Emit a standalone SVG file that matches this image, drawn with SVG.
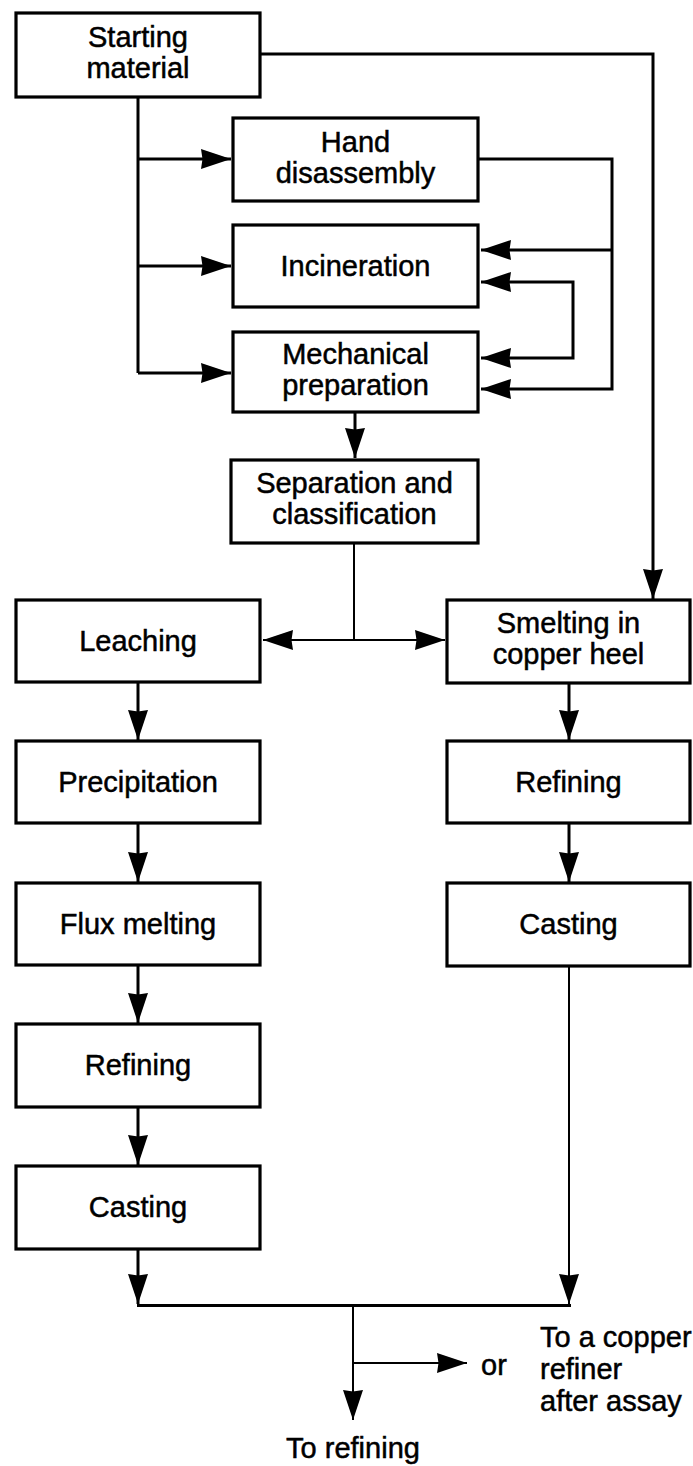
<svg xmlns="http://www.w3.org/2000/svg" width="693" height="1466" viewBox="0 0 693 1466">
  <style>
    .box { fill: #fff; stroke: #000; stroke-width: 3.2; }
    .lbl { font-family: "Liberation Sans", Arial, sans-serif; font-size: 29px; fill: #000; stroke: #000; stroke-width: 0.5; text-anchor: middle; }
    .note { font-family: "Liberation Sans", Arial, sans-serif; font-size: 29px; fill: #000; stroke: #000; stroke-width: 0.5; }
    .wire { fill: none; stroke: #000; stroke-width: 3; stroke-linecap: butt; stroke-linejoin: miter; }
    .thin { fill: none; stroke: #000; stroke-width: 2; }
    .arr { marker-end: url(#head); }
  </style>
  <defs>
    <marker id="head" markerUnits="userSpaceOnUse" markerWidth="30" markerHeight="20" refX="30" refY="10" orient="auto">
      <path d="M0,0 L30,10 L0,20 L1.5,10 Z" fill="#000"/>
    </marker>
  </defs>

  <rect width="693" height="1466" fill="#fff"/>

  <!-- connectors -->
  <g id="connectors">
    <!-- starting material straight to smelting -->
    <polyline class="wire arr" points="260,54 653,54 653,599"/>
    <!-- starting material down the left side -->
    <polyline class="wire" points="138,97 138,373"/>
    <line class="wire arr" x1="138" y1="159" x2="231" y2="159"/>
    <line class="wire arr" x1="138" y1="266" x2="231" y2="266"/>
    <line class="wire arr" x1="138" y1="373" x2="231" y2="373"/>
    <!-- hand disassembly return loop -->
    <polyline class="wire arr" points="478,159 612,159 612,389 481,389"/>
    <line class="wire arr" x1="612" y1="250" x2="481" y2="250"/>
    <!-- incineration / mechanical preparation exchange -->
    <polyline class="wire arr" points="573,320 573,282 481,282"/>
    <polyline class="wire arr" points="573,320 573,358 481,358"/>
    <!-- mechanical preparation to separation -->
    <line class="wire arr" x1="355" y1="412" x2="355" y2="458"/>
    <!-- separation split -->
    <line class="thin" x1="354" y1="543" x2="354" y2="640"/>
    <line class="thin arr" x1="354" y1="640" x2="263" y2="640"/>
    <line class="thin arr" x1="354" y1="640" x2="445" y2="640"/>
    <!-- left chain -->
    <line class="wire arr" x1="138" y1="682" x2="138" y2="740"/>
    <line class="wire arr" x1="138" y1="823" x2="138" y2="882"/>
    <line class="wire arr" x1="138" y1="965" x2="138" y2="1023"/>
    <line class="wire arr" x1="138" y1="1107" x2="138" y2="1165"/>
    <line class="wire arr" x1="138" y1="1249" x2="138" y2="1304"/>
    <!-- right chain -->
    <line class="wire arr" x1="569" y1="683" x2="569" y2="740"/>
    <line class="wire arr" x1="569" y1="823" x2="569" y2="882"/>
    <line class="thin arr" x1="569" y1="966" x2="569" y2="1304"/>
    <!-- collector and outlets -->
    <line class="wire" x1="137" y1="1305.5" x2="571" y2="1305.5"/>
    <line class="thin arr" x1="353" y1="1305" x2="353" y2="1420"/>
    <line class="thin arr" x1="353" y1="1363" x2="467" y2="1363"/>
  </g>

  <!-- process boxes -->
  <g id="starting-material">
    <rect class="box" x="16" y="13" width="244" height="84"/>
    <text class="lbl" x="138" y="47">Starting</text>
    <text class="lbl" x="138" y="78">material</text>
  </g>
  <g id="hand-disassembly">
    <rect class="box" x="233" y="118" width="245" height="83"/>
    <text class="lbl" x="355.5" y="152">Hand</text>
    <text class="lbl" x="355.5" y="183">disassembly</text>
  </g>
  <g id="incineration">
    <rect class="box" x="233" y="225" width="245" height="82"/>
    <text class="lbl" x="355.5" y="276">Incineration</text>
  </g>
  <g id="mechanical-preparation">
    <rect class="box" x="233" y="332" width="245" height="80"/>
    <text class="lbl" x="355.5" y="364">Mechanical</text>
    <text class="lbl" x="355.5" y="395">preparation</text>
  </g>
  <g id="separation">
    <rect class="box" x="231" y="460" width="247" height="83"/>
    <text class="lbl" x="354.5" y="493">Separation and</text>
    <text class="lbl" x="354.5" y="524">classification</text>
  </g>
  <g id="leaching">
    <rect class="box" x="16" y="600" width="244" height="82"/>
    <text class="lbl" x="138" y="651">Leaching</text>
  </g>
  <g id="smelting">
    <rect class="box" x="447" y="600" width="243" height="83"/>
    <text class="lbl" x="568.5" y="633">Smelting in</text>
    <text class="lbl" x="568.5" y="664">copper heel</text>
  </g>
  <g id="precipitation">
    <rect class="box" x="16" y="741" width="244" height="82"/>
    <text class="lbl" x="138" y="792">Precipitation</text>
  </g>
  <g id="refining-right">
    <rect class="box" x="447" y="741" width="243" height="82"/>
    <text class="lbl" x="568.5" y="792">Refining</text>
  </g>
  <g id="flux-melting">
    <rect class="box" x="16" y="883" width="244" height="82"/>
    <text class="lbl" x="138" y="934">Flux melting</text>
  </g>
  <g id="casting-right">
    <rect class="box" x="447" y="883" width="243" height="83"/>
    <text class="lbl" x="568.5" y="934">Casting</text>
  </g>
  <g id="refining-left">
    <rect class="box" x="16" y="1024" width="244" height="83"/>
    <text class="lbl" x="138" y="1075">Refining</text>
  </g>
  <g id="casting-left">
    <rect class="box" x="16" y="1166" width="244" height="83"/>
    <text class="lbl" x="138" y="1217">Casting</text>
  </g>

  <!-- outlets -->
  <g id="outlet-copper-refiner">
    <text class="note" x="481" y="1375">or</text>
    <text class="note" x="540" y="1347">To a copper</text>
    <text class="note" x="540" y="1379">refiner</text>
    <text class="note" x="540" y="1411">after assay</text>
  </g>
  <g id="outlet-refining">
    <text class="lbl" x="353" y="1458">To refining</text>
  </g>
</svg>
